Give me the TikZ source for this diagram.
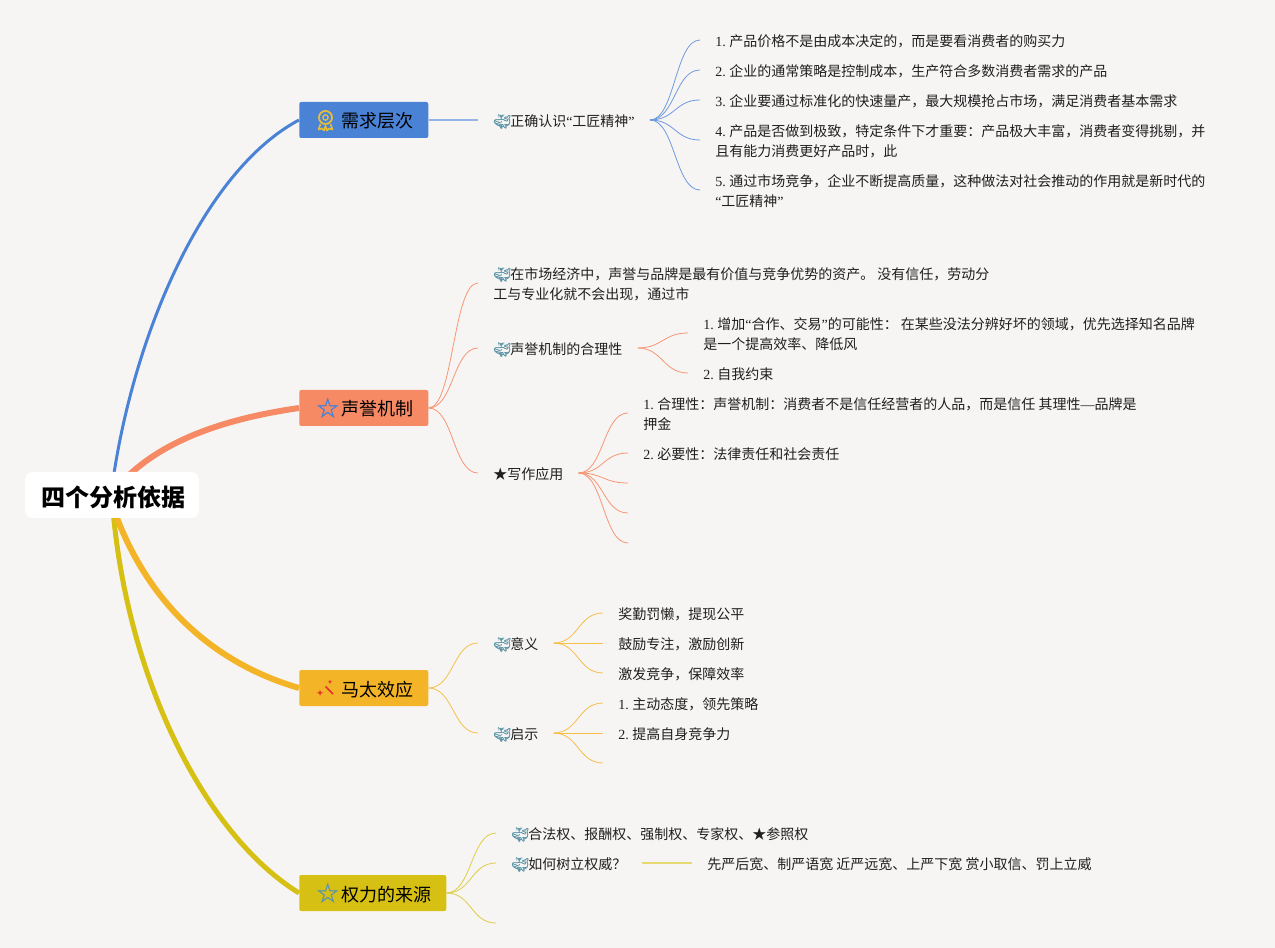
\documentclass[tikz,border=0pt]{standalone}
\usepackage{fontspec}
\setmainfont{Noto Sans CJK SC}
\newfontfamily\serifnum[WordSpace=0.7]{Liberation Serif}
\newfontfamily\emojifont[FakeBold=1.2]{Noto Emoji}
\newfontfamily\symfont[FakeBold=1.2]{DejaVu Sans}
\usetikzlibrary{positioning}
\definecolor{bgc}{HTML}{F7F5F4}
\definecolor{blu}{HTML}{4A82D6}
\definecolor{cor}{HTML}{F58A65}
\definecolor{ora}{HTML}{F3B428}
\definecolor{yel}{HTML}{D6C014}
\definecolor{whl}{HTML}{5F97A8}
\definecolor{gld}{HTML}{E3BE3D}
\definecolor{wnd}{HTML}{E8302A}
\newcommand{\nm}[1]{{\serifnum #1}}
\newcommand{\wl}{\makebox[12.75pt][l]{\smash{\emojifont\color{whl}\symbol{"1F433}}}}
\newcommand{\tp}[2]{\hspace*{15pt}\makebox[16.5pt][l]{#1}#2\hspace*{11.25pt}}
\newcommand{\st}[1]{\smash{\hspace*{-2.6pt}\raisebox{-1pt}{\symfont\fontsize{20}{20}\selectfont\color{#1}\symbol{"2606}}}}
\begin{document}
\begin{tikzpicture}[x=.75pt,y=-.75pt,
  rootbox/.style={fill=white,rounded corners=6pt,inner sep=0pt,minimum width=130.5pt,minimum height=34.5pt,text height=16.7pt,text depth=0pt,font=\fontsize{18}{18}\selectfont\bfseries,text=black},
  topic/.style={anchor=west,rounded corners=1.5pt,inner sep=0pt,minimum height=27pt,text height=12pt,text depth=0pt,font=\fontsize{13.5}{16}\selectfont,text=black},
  item/.style={anchor=west,align=left,inner xsep=11.25pt,inner ysep=0pt,text height=9.5pt,text depth=0pt,font=\fontsize{10.5}{15}\selectfont,text=black!88},
  twoline/.style={item,text height=24.5pt},
  fan/.style={to path={.. controls +(25,0) and +(-25,0) .. (\tikztotarget)}},
  main/.style={line cap=butt},
  bl/.style={blu!80,line width=.6pt}, cl/.style={cor!90,line width=.6pt}, ol/.style={ora!85,line width=.6pt}, yl/.style={yel!80,line width=.6pt}]
\fill[bgc] (0,0) rectangle (1275,948);
\useasboundingbox (0,0) rectangle (1275,948);
\coordinate (r1) at (113,480); \coordinate (r2) at (124,480); \coordinate (r3) at (114,510); \coordinate (r4) at (113,510);
\node[topic,fill=blu] (t1) at (299,120) {\tp{}{需求层次}};
\node[topic,fill=cor] (t2) at (299,408) {\tp{\st{blu}}{声誉机制}};
\node[topic,fill=ora] (t3) at (299,688) {\tp{}{马太效应}};
\node[topic,fill=yel] (t4) at (299,893) {\tp{\st{whl}}{权力的来源}};
\draw[main,blu,line width=2.25pt] (r1) .. controls (135,330) and (205,170) .. (t1.west);
\draw[main,cor,line width=4.5pt] (r2) .. controls (165,438) and (230,418) .. (t2.west);
\draw[main,yel,line width=3.75pt] (r4) .. controls (128,680) and (205,835) .. (t4.west);
\draw[main,ora,line width=4.5pt] (r3) .. controls (150,610) and (220,665) .. (t3.west);
\node[rootbox] (root) at (112,495) {\hspace*{2.2pt}四个分析依据};
\draw[gld,line width=1.35pt] (325.5,117.5) circle (4.9pt);
\draw[gld,line width=1pt] (325.5,117.5) circle (2pt);
\draw[gld,line width=1.2pt,line join=round] (320.5,124) -- (318.5,129.5) -- (322,128.5) -- (324,130.5) -- (325.5,126) -- (327,130.5) -- (329,128.5) -- (332.5,129.5) -- (330.5,124);
\draw[wnd,line width=1.2pt] (325.5,686.5) -- (333,694);
\fill[wnd] (320,689.5) -- (320.8,692) -- (323.3,692.8) -- (320.8,693.6) -- (320,696) -- (319.2,693.6) -- (316.7,692.8) -- (319.2,692) -- cycle;
\fill[wnd] (330,679.5) -- (330.6,681.2) -- (332.3,681.8) -- (330.6,682.4) -- (330,684) -- (329.4,682.4) -- (327.7,681.8) -- (329.4,681.2) -- cycle;
\node[item] (a) at (478,120) {\wl 正确认识\nm{“}工匠精神\nm{”}};
\node[item] (a1) at (700,40) {\nm{1. }产品价格不是由成本决定的，而是要看消费者的购买力};
\node[item] (a2) at (700,70) {\nm{2. }企业的通常策略是控制成本，生产符合多数消费者需求的产品};
\node[item] (a3) at (700,100) {\nm{3. }企业要通过标准化的快速量产，最大规模抢占市场，满足消费者基本需求};
\node[twoline] (a4) at (700,140) {\nm{4. }产品是否做到极致，特定条件下才重要：产品极大丰富，消费者变得挑剔，并\\且有能力消费更好产品时，此};
\node[twoline] (a5) at (700,190) {\nm{5. }通过市场竞争，企业不断提高质量，这种做法对社会推动的作用就是新时代的\\\nm{“}工匠精神\nm{”}};
\draw[blu!60,line width=1.1pt] (t1.east)--(a.west);
\draw[bl,fan] (a.east) to (a1.west); \draw[bl,fan] (a.east) to (a2.west); \draw[bl,fan] (a.east) to (a3.west);
\draw[bl,fan] (a.east) to (a4.west); \draw[bl,fan] (a.east) to (a5.west);
\node[twoline] (b) at (478,283) {\wl 在市场经济中，声誉与品牌是最有价值与竞争优势的资产。 没有信任，劳动分\\工与专业化就不会出现，通过市};
\node[item] (c) at (478,348) {\wl 声誉机制的合理性};
\node[item] (d) at (478,473) {★写作应用};
\node[twoline] (c1) at (688,333) {\nm{1. }增加\nm{“}合作、交易\nm{”}的可能性： 在某些没法分辨好坏的领域，优先选择知名品牌\\是一个提高效率、降低风};
\node[item] (c2) at (688,373) {\nm{2. }自我约束};
\node[twoline] (d1) at (628,413) {\nm{1. }合理性：声誉机制：消费者不是信任经营者的人品，而是信任 其理性\nm{—}品牌是\\押金};
\node[item] (d2) at (628,453) {\nm{2. }必要性：法律责任和社会责任};
\coordinate (d3) at (628,483); \coordinate (d4) at (628,513); \coordinate (d5) at (628,543);
\draw[cl,fan] (t2.east) to (b.west); \draw[cl,fan] (t2.east) to (c.west); \draw[cl,fan] (t2.east) to (d.west);
\draw[cl,fan] (c.east) to (c1.west); \draw[cl,fan] (c.east) to (c2.west);
\draw[cl,fan] (d.east) to (d1.west); \draw[cl,fan] (d.east) to (d2.west); \draw[cl,fan] (d.east) to (d3);
\draw[cl,fan] (d.east) to (d4); \draw[cl,fan] (d.east) to (d5);
\node[item] (e) at (478,643) {\wl 意义};
\node[item] (f) at (478,733) {\wl 启示};
\node[item] (e1) at (603,613) {奖勤罚懒，提现公平};
\node[item] (e2) at (603,643) {鼓励专注，激励创新};
\node[item] (e3) at (603,673) {激发竞争，保障效率};
\node[item] (f1) at (603,703) {\nm{1. }主动态度，领先策略};
\node[item] (f2) at (603,733) {\nm{2. }提高自身竞争力};
\coordinate (f3) at (603,763);
\draw[ol,fan] (t3.east) to (e.west); \draw[ol,fan] (t3.east) to (f.west);
\draw[ol,fan] (e.east) to (e1.west); \draw[ol,fan] (e.east) to (e2.west); \draw[ol,fan] (e.east) to (e3.west);
\draw[ol,fan] (f.east) to (f1.west); \draw[ol,fan] (f.east) to (f2.west); \draw[ol,fan] (f.east) to (f3);
\node[item] (g) at (496,833) {\wl 合法权、报酬权、强制权、专家权、★参照权};
\node[item] (h) at (496,863) {\wl 如何树立权威？};
\node[item] (h1) at (692,863) {先严后宽、制严语宽 近严远宽、上严下宽 赏小取信、罚上立威};
\coordinate (g3) at (496,923);
\draw[yl,fan] (t4.east) to (g.west); \draw[yl,fan] (t4.east) to (h.west); \draw[yl,fan] (t4.east) to (g3);
\draw[yel!60,line width=.9pt] (h.east)--(h1.west);
\end{tikzpicture}
\end{document}
